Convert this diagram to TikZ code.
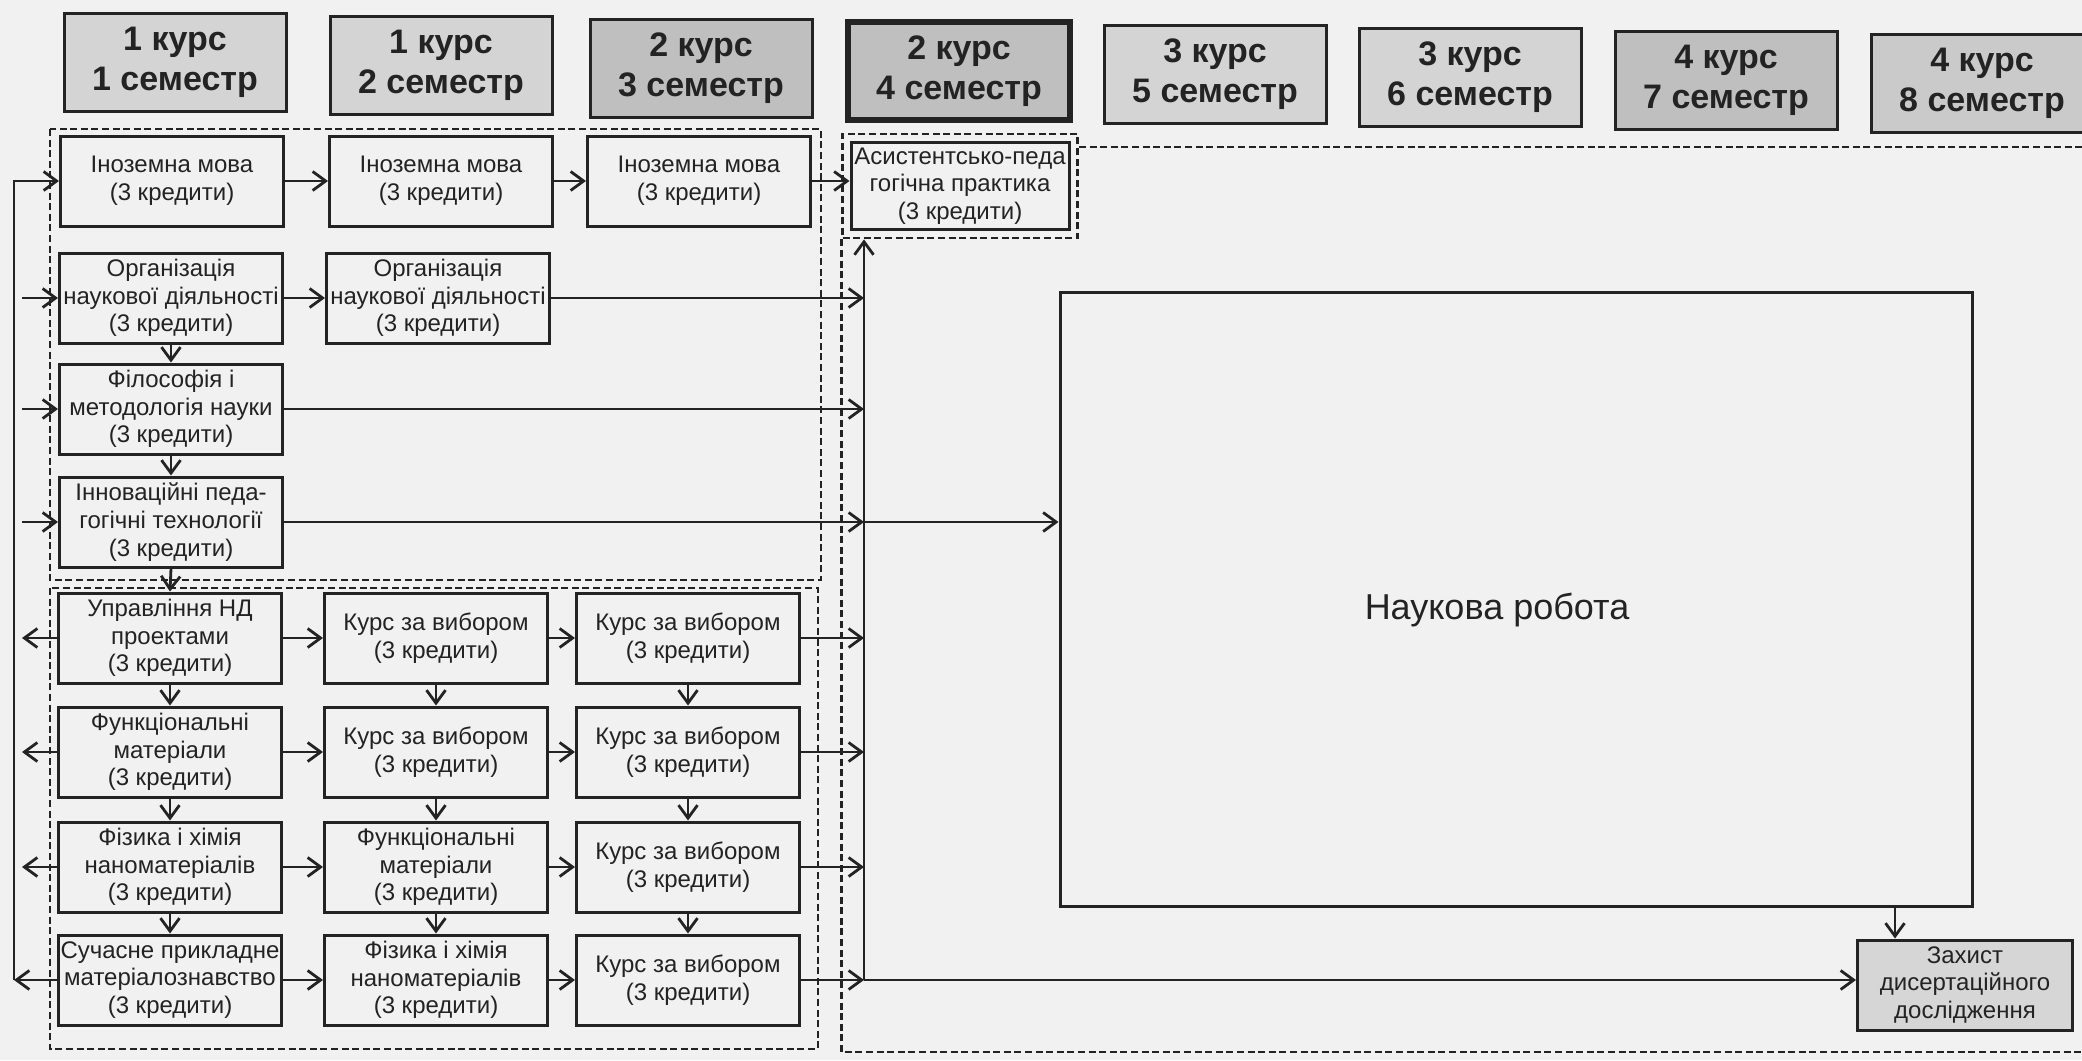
\documentclass[tikz,border=0pt]{standalone}
\usepackage{fontspec}
\setmainfont{Liberation Sans}
\usepackage{xcolor}
\usepackage{tikz}
\usetikzlibrary{arrows.meta, positioning, fit, calc}

\definecolor{scanbg}{RGB}{241,241,241}
\definecolor{hdrlight}{RGB}{212,212,212}
\definecolor{hdrdark}{RGB}{191,191,191}
\definecolor{hdrmid}{RGB}{202,202,202}
\definecolor{defbox}{RGB}{214,214,214}
\definecolor{ink}{RGB}{35,35,35}

\begin{document}
\begin{tikzpicture}[
    x=0.5pt, y=-0.5pt,
    every node/.style={color=ink, font=\fontsize{12}{13.8}\selectfont},
    hdr/.style={draw=ink, rectangle, line width=1.5pt, fill=hdrlight,
                minimum width=111pt, minimum height=49pt,
                align=center, inner sep=1pt, font=\fontsize{17}{20}\selectfont\bfseries},
    crs/.style={draw=ink, rectangle, line width=1.5pt, minimum width=111.5pt,
                minimum height=45pt, align=center, inner sep=1pt},
    grp/.style={draw=ink, line width=1.4pt, dash pattern=on 3.5pt off 1.8pt},
    arrow/.style={-{Straight Barb[length=6.5pt, width=9.5pt]}, draw=ink, line width=1.4pt}
]

\fill[scanbg] (0,0) rectangle (2082,1060);
\useasboundingbox (0,0) rectangle (2082,1060);

% --- Semester headers ---
\node[hdr] (sem1) at (175,62) {1 курс\\1 семестр};
\node[hdr] (sem2) at (441,65) {1 курс\\2 семестр};
\node[hdr, fill=hdrdark] (sem3) at (701,68) {2 курс\\3 семестр};
\node[hdr, fill=hdrdark, line width=2.6pt] (sem4) at (959,71) {2 курс\\4 семестр};
\node[hdr] (sem5) at (1215,74) {3 курс\\5 семестр};
\node[hdr] (sem6) at (1470,77) {3 курс\\6 семестр};
\node[hdr, fill=hdrdark] (sem7) at (1726,80) {4 курс\\7 семестр};
\node[hdr, fill=hdrmid] (sem8) at (1982,83) {4 курс\\8 семестр};

% --- Core block (group 1) ---
\node[crs] (ino1) at (172,181) {Іноземна мова\\(3 кредити)};
\node[crs] (ino2) at (441,181) {Іноземна мова\\(3 кредити)};
\node[crs] (ino3) at (699,181) {Іноземна мова\\(3 кредити)};
\node[crs, minimum width=109pt, minimum height=43.5pt] (prak) at (960,186)
    {Асистентсько-педа\\гогічна практика\\(3 кредити)};
\node[crs] (org1) at (171,298) {Організація\\наукової діяльності\\(3 кредити)};
\node[crs] (org2) at (438,298) {Організація\\наукової діяльності\\(3 кредити)};
\node[crs] (fil) at (171,409) {Філософія і\\методологія науки\\(3 кредити)};
\node[crs] (inn) at (171,522) {Інноваційні педа-\\гогічні технології\\(3 кредити)};

% --- Speciality block (group 2) ---
\node[crs] (upr) at (170,638) {Управління НД\\проектами\\(3 кредити)};
\node[crs] (kv1) at (436,638) {Курс за вибором\\(3 кредити)};
\node[crs] (kv2) at (688,638) {Курс за вибором\\(3 кредити)};
\node[crs] (fun1) at (170,752) {Функціональні\\матеріали\\(3 кредити)};
\node[crs] (kv3) at (436,752) {Курс за вибором\\(3 кредити)};
\node[crs] (kv4) at (688,752) {Курс за вибором\\(3 кредити)};
\node[crs] (fiz1) at (170,867) {Фізика і хімія\\наноматеріалів\\(3 кредити)};
\node[crs] (fun2) at (436,867) {Функціональні\\матеріали\\(3 кредити)};
\node[crs] (kv5) at (688,867) {Курс за вибором\\(3 кредити)};
\node[crs] (suc) at (170,980) {Сучасне прикладне\\матеріалознавство\\(3 кредити)};
\node[crs] (fiz2) at (436,980) {Фізика і хімія\\наноматеріалів\\(3 кредити)};
\node[crs] (kv6) at (688,980) {Курс за вибором\\(3 кредити)};

% --- Research and defence ---
\node[crs, minimum width=456pt, minimum height=307pt] (nauk) at (1516,599) {};
\node[font=\fontsize{18}{21}\selectfont] (nauklbl) at (1497,610) {Наукова робота};
\node[crs, fill=defbox, minimum width=107.5pt] (zakh) at (1965,985)
    {Захист\\дисертаційного\\дослідження};

% --- Dashed group frames ---
\draw[grp] (50,129) rectangle (821,580);
\draw[grp] (50,588) rectangle (818,1049);
\node[grp, fit=(prak), inner sep=3.5pt] (prakgrp) {};
\coordinate (regtop) at (2090,147);
\coordinate (regbot) at (2090,1052);
\draw[grp] (prakgrp.east |- regtop) -- (regtop);
\draw[grp] (prakgrp.south west) -- (prakgrp.west |- regbot) -- (regbot);

% --- Arrows inside the blocks ---
\draw[arrow] (ino1.east) -- (ino2.west);
\draw[arrow] (ino2.east) -- (ino3.west);
\draw[arrow] (ino3.east) -- (ino3.east -| prak.west);
\draw[arrow] (org1.east) -- (org2.west);
\draw[arrow] (org1.south) -- (fil.north);
\draw[arrow] (fil.south) -- (inn.north);
\draw[arrow] (inn.south) -- (upr.north);
\draw[arrow] (upr.south) -- (fun1.north);
\draw[arrow] (fun1.south) -- (fiz1.north);
\draw[arrow] (fiz1.south) -- (suc.north);
\draw[arrow] (kv1.south) -- (kv3.north);
\draw[arrow] (kv3.south) -- (fun2.north);
\draw[arrow] (fun2.south) -- (fiz2.north);
\draw[arrow] (kv2.south) -- (kv4.north);
\draw[arrow] (kv4.south) -- (kv5.north);
\draw[arrow] (kv5.south) -- (kv6.north);
\draw[arrow] (upr.east) -- (kv1.west);
\draw[arrow] (kv1.east) -- (kv2.west);
\draw[arrow] (fun1.east) -- (kv3.west);
\draw[arrow] (kv3.east) -- (kv4.west);
\draw[arrow] (fiz1.east) -- (fun2.west);
\draw[arrow] (fun2.east) -- (kv5.west);
\draw[arrow] (suc.east) -- (fiz2.west);
\draw[arrow] (fiz2.east) -- (kv6.west);

% --- Left loop and stubs ---
\coordinate (lbus) at (14,0);
\coordinate (lstub) at (22,0);
\draw[arrow] (suc.west) -- (suc.west -| lbus);
\draw[arrow] (suc.west -| lbus) |- (ino1.west);
\draw[arrow] (org1.west -| lstub) -- (org1.west);
\draw[arrow] (fil.west -| lstub) -- (fil.west);
\draw[arrow] (inn.west -| lstub) -- (inn.west);
\draw[arrow] (upr.west) -- (upr.west -| lstub);
\draw[arrow] (fun1.west) -- (fun1.west -| lstub);
\draw[arrow] (fiz1.west) -- (fiz1.west -| lstub);

% --- Right bus into practice, research and defence ---
\coordinate (rbus) at (864,0);
\draw[arrow] (rbus |- kv6.east) -- (rbus |- prakgrp.south);
\draw[arrow] (org2.east) -- (org2.east -| rbus);
\draw[arrow] (fil.east) -- (fil.east -| rbus);
\draw[arrow] (inn.east) -- (inn.east -| rbus);
\draw[arrow] (inn.east -| rbus) -- (inn.east -| nauk.west);
\draw[arrow] (kv2.east) -- (kv2.east -| rbus);
\draw[arrow] (kv4.east) -- (kv4.east -| rbus);
\draw[arrow] (kv5.east) -- (kv5.east -| rbus);
\draw[arrow] (kv6.east) -- (kv6.east -| rbus);
\draw[arrow] (kv6.east -| rbus) -- (kv6.east -| zakh.west);
\coordinate (zin) at ([xshift=-35pt]zakh.north);
\draw[arrow] (zin |- nauk.south) -- (zin);

\end{tikzpicture}
\end{document}
